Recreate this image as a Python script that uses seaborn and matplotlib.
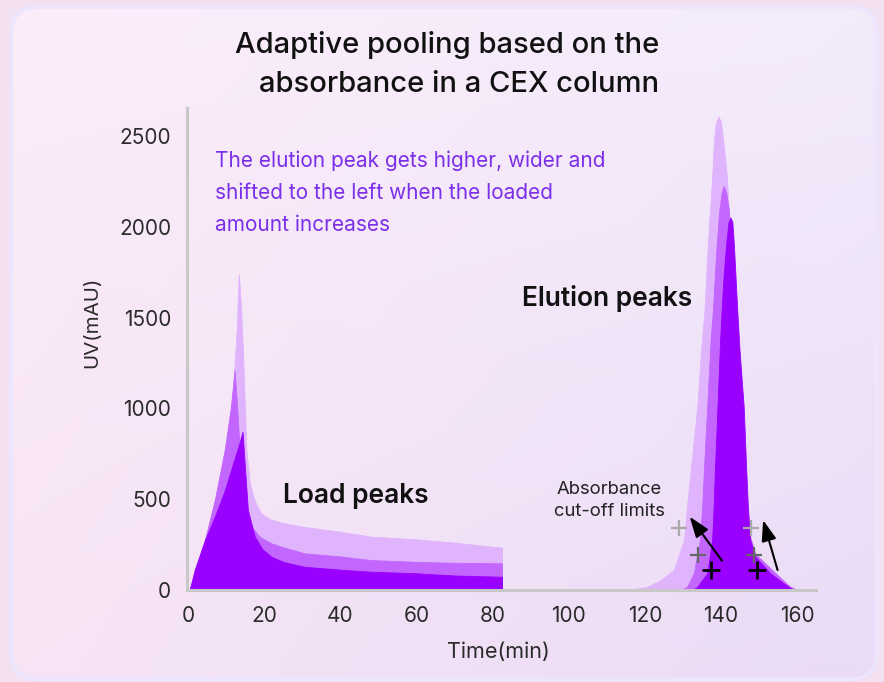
import numpy as np
import matplotlib
matplotlib.use("Agg")
import matplotlib.pyplot as plt
from matplotlib.patches import FancyBboxPatch
import seaborn as sns

# ── data ─────────────────────────────────────────────────────────────────────
# load peaks, three loaded amounts (low -> high = dark -> light)
load_t_light = [0.4, 4.4, 7.0, 9.6, 11.8, 12.8, 13.3, 13.9, 14.4, 15.3, 16.2, 17.5,
                19.2, 21.5, 24.5, 30, 40, 48, 60, 70, 82.5]
load_uv_light = [0, 270, 480, 740, 1100, 1450, 1740, 1560, 1322, 771, 587, 490,
                 422, 390, 371, 349, 321, 294, 279, 261, 233]
load_t_mid = [0.4, 4.4, 7.0, 9.6, 11.2, 12.2, 12.9, 13.6, 14.5, 15.5, 16.6, 19,
              21.9, 25, 30.6, 40, 48, 60, 70, 82.5]
load_uv_mid = [0, 275, 496, 771, 1000, 1211, 1000, 750, 560, 430, 349, 290,
               257, 235, 202, 185, 165, 155, 150, 147]
load_t_dark = [0.4, 1.7, 4.4, 7.0, 9.5, 11.8, 13.2, 14.3, 15.0, 15.7, 17.5, 19.5, 21.9,
               25, 30.6, 40, 48, 60, 70, 82.5]
load_uv_dark = [0, 110, 275, 404, 540, 697, 790, 872, 650, 441, 294, 225, 183,
                155, 128, 112, 101, 92, 80, 73]

# elution peaks
elu_t_light = [112, 117.2, 120.7, 124.2, 127.6, 130.3, 131.1, 132.0, 133.8, 134.8,
               135.7, 136.6, 137.7, 138.2, 138.7, 139.4, 140.0, 140.6, 141.6, 142.5,
               143.2, 143.8, 144.8, 145.8, 146.6, 148.0, 149.9, 153.9, 158.2, 160.5]
elu_uv_light = [0, 5, 18, 55, 110, 275, 459, 643, 1009, 1322,
                1542, 1911, 2276, 2478, 2575, 2606, 2580, 2478, 2276, 1911,
                1542, 1322, 1009, 643, 400, 230, 160, 100, 20, 0]
elu_t_mid = [129.5, 131.1, 132.9, 134.5, 135.1, 135.5, 136.4, 137.3, 137.9, 138.9,
             139.6, 140.2, 140.75, 141.4, 142.1, 142.7, 143.5, 144.2, 145.2, 146.2,
             147.2, 149.0, 151.5, 154.0, 158.0, 160.0]
elu_uv_mid = [0, 18, 92, 275, 459, 643, 1009, 1377, 1542, 1909,
              2092, 2190, 2225, 2190, 2092, 1909, 1542, 1322, 1009, 643,
              330, 200, 150, 100, 20, 0]
elu_t_dark = [132.5, 133.8, 136.4, 137.7, 138.1, 138.4, 139.1, 139.8, 140.2, 140.7,
              141.4, 142.0, 142.5, 143.0, 143.4, 144.3, 144.9, 146.0, 146.7, 147.1,
              147.7, 149.1, 153.0, 156.5, 159.1]
elu_uv_dark = [0, 18, 92, 275, 459, 643, 1009, 1377, 1542, 1725,
               1909, 2025, 2052, 2030, 1909, 1542, 1322, 1009, 643, 459,
               275, 183, 92, 37, 0]

# absorbance cut-off points (left / right of each elution peak)
cut_t = [129.0, 134.0, 137.3, 147.8, 148.6, 149.5]
cut_uv = [340, 193, 110, 340, 193, 110]
cut_col = ["#a9a9a9", "#666666", "#000000", "#a9a9a9", "#666666", "#000000"]

# arrows: (tail, head)
arrows = [((140.3, 161), (131.8, 404)), ((154.9, 110), (151.1, 385))]

x_ticks = [0, 20, 40, 60, 80, 100, 120, 140, 160]
y_ticks = [0, 500, 1000, 1500, 2000, 2500]

LIGHT, MID, DARK = "#e0b4fc", "#c266fe", "#9900fe"
PURPLE_TXT = "#7a2fe8"

# ── style ────────────────────────────────────────────────────────────────────
sns.set_theme(style="white")
plt.rcParams["font.family"] = ["Inter", "DejaVu Sans"]

W, H = 884, 682
fig = plt.figure(figsize=(W / 100, H / 100), dpi=100)
fig.patch.set_facecolor("#f3e1f1")

# card background with soft diagonal gradient
bg = fig.add_axes([0, 0, 1, 1], zorder=-10)
bg.set_xlim(0, W)
bg.set_ylim(H, 0)
bg.axis("off")
border = FancyBboxPatch((9, 5), 870, 676, boxstyle="round,pad=0,rounding_size=28",
                        facecolor="#ece5fb", edgecolor="none", zorder=0)
bg.add_patch(border)
card = FancyBboxPatch((13, 9), 862, 668, boxstyle="round,pad=0,rounding_size=25",
                      facecolor="none", edgecolor="none", zorder=0)
bg.add_patch(card)
tl, tr = np.array([252, 237, 250]), np.array([243, 235, 251])
bl, br = np.array([247, 228, 245]), np.array([234, 219, 246])
u = np.linspace(0, 1, 200)[None, :, None]
v = np.linspace(0, 1, 160)[:, None, None]
grad = (tl * (1 - u) * (1 - v) + tr * u * (1 - v) + bl * (1 - u) * v + br * u * v) / 255
im = bg.imshow(grad, extent=(13, 875, 677, 9), aspect="auto", interpolation="bilinear",
               zorder=1)
im.set_clip_path(card)

ax = fig.add_axes([187 / W, 92 / H, 629 / W, 482 / H])
ax.set_facecolor("none")

for t, uv, col in [(load_t_light, load_uv_light, LIGHT), (load_t_mid, load_uv_mid, MID),
                   (load_t_dark, load_uv_dark, DARK),
                   (elu_t_light, elu_uv_light, LIGHT), (elu_t_mid, elu_uv_mid, MID),
                   (elu_t_dark, elu_uv_dark, DARK)]:
    ax.fill_between(t, 0, uv, color=col, lw=0.6, edgecolor=col)

for t, uv, c in zip(cut_t, cut_uv, cut_col):
    big = c == "#000000"
    ax.plot(t, uv, marker="+", ms=13 if big else 12, mew=2.0 if big else 1.6,
            color=c, ls="none", zorder=5)

for tail, head in arrows:
    ax.annotate("", xy=head, xytext=tail,
                arrowprops=dict(arrowstyle="-|>,head_length=0.7,head_width=0.25",
                                color="black", lw=1.5, mutation_scale=18,
                                shrinkA=0, shrinkB=0), zorder=6)

ax.set_xlim(-0.3, 165)
ax.set_ylim(0, 2655)
ax.set_xticks(x_ticks)
ax.set_yticks(y_ticks)
sns.despine(ax=ax)
for s in ["left", "bottom"]:
    ax.spines[s].set_color("#c8c8c8")
    ax.spines[s].set_linewidth(2.2)
ax.tick_params(axis="both", colors="#c8c8c8", width=2, length=6.5, labelsize=15,
               labelcolor="#2b2b2b")
ax.tick_params(axis="y", pad=5)
ax.tick_params(axis="x", pad=5)
ax.set_xlabel("")
ax.set_ylabel("")

def ftext(px, py, s, **kw):
    fig.text(px / W, 1 - py / H, s, **kw)

ftext(447, 45, "Adaptive pooling based on the", fontsize=21, fontweight="medium",
      ha="center", va="center", color="#111111")
ftext(459, 84, "absorbance in a CEX column", fontsize=21, fontweight="medium",
      ha="center", va="center", color="#111111")

for i, line in enumerate(["The elution peak gets higher, wider and",
                          "shifted to the left when the loaded",
                          "amount increases"]):
    ftext(215, 167 + 32 * i, line, fontsize=15, color=PURPLE_TXT, ha="left",
          va="baseline")

ftext(283, 503, "Load peaks", fontsize=19, fontweight="semibold", ha="left",
      va="baseline", color="#111111")
ftext(522, 306, "Elution peaks", fontsize=19, fontweight="semibold", ha="left",
      va="baseline", color="#111111")
ftext(609, 489, "Absorbance", fontsize=13.3, ha="center", va="center", color="#222222")
ftext(609, 512, "cut-off limits", fontsize=13.3, ha="center", va="center", color="#222222")

ftext(92, 322, "UV(mAU)", fontsize=14.8, rotation=90, ha="center", va="center",
      color="#2b2b2b")
ftext(498, 652, "Time(min)", fontsize=15.5, ha="center", va="center", color="#2b2b2b")

fig.savefig("out.png", dpi=100, facecolor=fig.get_facecolor())
